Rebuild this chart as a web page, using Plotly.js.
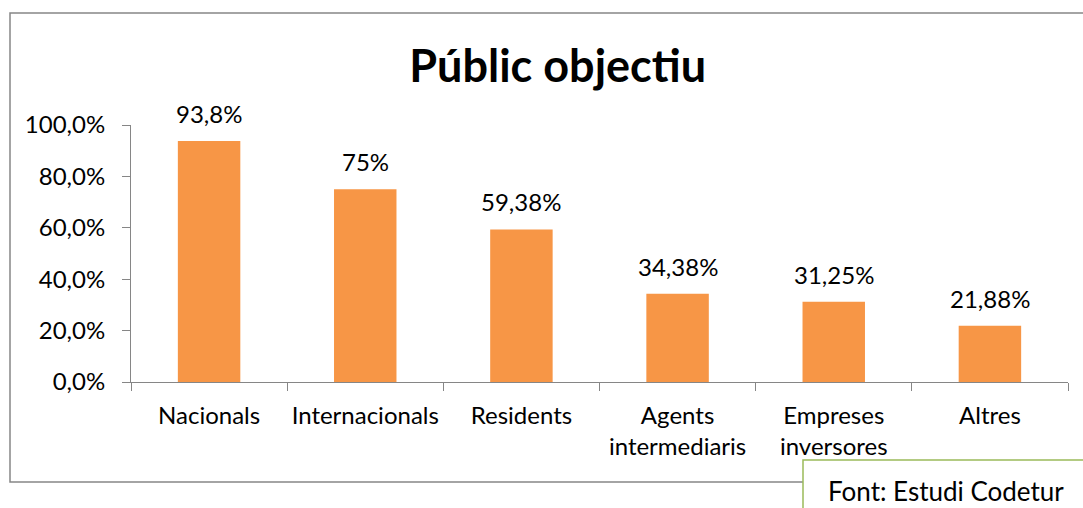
<!DOCTYPE html>
<html>
<head>
<meta charset="utf-8">
<script src="https://cdn.plot.ly/plotly-3.0.1.min.js"></script>
<style>html,body{margin:0;padding:0;background:#fff;}#chart{width:1083px;height:508px;}</style>
</head>
<body>
<div id="chart"></div>
<script>
const categories = ["Nacionals", "Internacionals", "Residents", "Agents<br>intermediaris", "Empreses<br>inversores", "Altres"];
const values = [93.8, 75, 59.38, 34.38, 31.25, 21.88];
const valueLabels = ["93,8%", "75%", "59,38%", "34,38%", "31,25%", "21,88%"];
const yTickVals = [0, 20, 40, 60, 80, 100];
const yTickText = ["0,0%", "20,0%", "40,0%", "60,0%", "80,0%", "100,0%"];
const titleText = "Públic objectiu";
const sourceText = "Font: Estudi Codetur";

const W = 1083, H = 508;
const L = 131, R = 1068, T = 125, B = 382;
const px = x => (x - L) / (R - L);
const py = y => (B - y) / (B - T);
const FONT = "Lato, 'Open Sans', sans-serif";
const AX = "#868686";

const annotations = categories.map((c, i) => ({
  x: c, y: values[i], xref: "x", yref: "y",
  text: valueLabels[i], showarrow: false, yanchor: "bottom", yshift: 11,
  font: {family: FONT, size: 24, color: "#000"}
}));
annotations.push({
  xref: "paper", yref: "paper", x: px(826), y: py(491), xanchor: "left", yanchor: "middle",
  text: sourceText, showarrow: false, font: {family: FONT, size: 26, color: "#000"}
});

const data = [{
  type: "bar", x: categories, y: values,
  marker: {color: "#F79646"}, hoverinfo: "none"
}];

const layout = {
  width: W, height: H,
  margin: {l: L, r: W - R, t: T, b: H - B, pad: 0},
  paper_bgcolor: "#fff", plot_bgcolor: "#fff",
  bargap: 0.6,
  showlegend: false,
  title: {text: "<b>" + titleText + "</b>", x: 0.515, xanchor: "center", y: 1 - 66 / H, yanchor: "middle",
          font: {family: FONT, size: 45, color: "#000"}},
  xaxis: {
    type: "category", tickson: "boundaries", ticks: "outside", ticklen: 8, tickcolor: AX,
    showline: true, linecolor: AX, linewidth: 1, showgrid: false, zeroline: false,
    ticklabelstandoff: 12, tickangle: 0,
    tickfont: {family: FONT, size: 24, color: "#000"}, fixedrange: true
  },
  yaxis: {
    range: [0, 100], tickvals: yTickVals, ticktext: yTickText, ticks: "outside", ticklen: 8, tickcolor: AX,
    showline: true, linecolor: AX, linewidth: 1, showgrid: false, zeroline: false,
    ticklabelstandoff: 12,
    tickfont: {family: FONT, size: 24, color: "#000"}, fixedrange: true
  },
  shapes: [
    {type: "rect", xref: "paper", yref: "paper", x0: px(10), x1: px(1095), y0: py(482), y1: py(13),
     line: {color: AX, width: 1.5}, fillcolor: "rgba(0,0,0,0)", layer: "above"},
    {type: "rect", xref: "paper", yref: "paper", x0: px(803), x1: px(1100), y0: py(520), y1: py(460),
     line: {color: "#9BBB59", width: 1.5}, fillcolor: "#fff", layer: "above"}
  ],
  annotations: annotations
};

Plotly.newPlot("chart", data, layout, {displayModeBar: false, staticPlot: true});
</script>
</body>
</html>
